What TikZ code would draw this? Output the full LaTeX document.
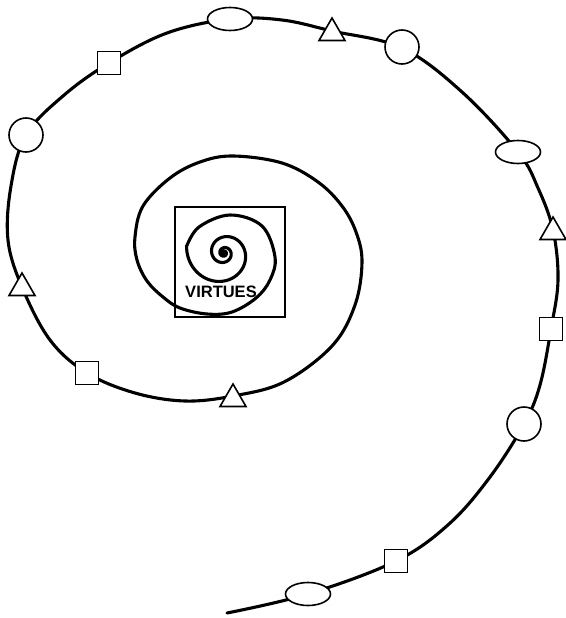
\documentclass[tikz,border=0pt]{standalone}
\usepackage{fontspec}
\usepackage{tikz}
\usetikzlibrary{shapes.geometric}
\newfontfamily\virtuefont{Liberation Sans}

\begin{document}
\begin{tikzpicture}[x=1pt, y=-1pt,
        spiralline/.style={line width=3.1pt, line cap=round},
        markbase/.style={draw, fill=white, line width=1.6pt, inner sep=0pt},
        ovalmark/.style={markbase, ellipse, minimum width=45pt, minimum height=23pt},
        roundmark/.style={markbase, circle, minimum size=34pt},
        squaremark/.style={markbase, rectangle, minimum size=23pt},
        trimark/.style={markbase, regular polygon, regular polygon sides=3, minimum size=30pt}]
        \useasboundingbox (0,0) rectangle (565,618);

        % Spiral
        \draw[spiralline]
            plot[domain=-1000:190, samples=260, smooth, variable=\t]
                ({224+38*exp(1.0986*(\t-190)/360)*cos(\t)}, {253+38*exp(1.0986*(\t-190)/360)*sin(\t)})
            -- plot[smooth, tension=0.6] coordinates {(186.6,246.4) (199,227) (230,215) (262,226)
                (275,257) (270,280) (256,298) (232,312) (207,314) (180,308) (163,297)
                (147,281) (137,260) (135,237) (143,206) (170,178) (200,162) (233,156)
                (282,163) (318,182) (342,206) (356,232) (362,262) (355,305) (332,346)
                (284,382) (233,396) (185,401) (135,393) (87,373) (50,340) (22,287)
                (8,240) (11,186) (26,135) (63,96) (109,63) (167,33) (230,19) (282,20)
                (332,31) (402,48) (462,92) (518,152) (538,188) (553,230)
                (558,280) (551,329) (540,385) (524,424) (490,477) (449,524) (396,561)
                (308,594) (227,613)};

        % Centre
        \node[draw, line width=1.6pt, minimum size=110pt, inner sep=0pt] (virtueBox) at (230,262) {};
        \node[font=\virtuefont\bfseries\fontsize{16.5}{18}\selectfont, inner sep=0pt] (virtueLabel) at (221,292) {VIRTUES};

        % Markers
        \foreach \name/\pos in {ovalTop/{(230,19)}, ovalRight/{(518,152)}, ovalBottom/{(308,594)}}
            \node[ovalmark] (\name) at \pos {};
        \foreach \name/\pos in {roundLeft/{(26,135)}, roundTop/{(402,47)}, roundRight/{(524,424)}}
            \node[roundmark] (\name) at \pos {};
        \foreach \name/\pos in {squareTop/{(109,63)}, squareLeft/{(87,373)}, squareRight/{(551,329)}, squareBottom/{(396,561)}}
            \node[squaremark] (\name) at \pos {};
        \foreach \name/\pos in {triTop/{(332,33)}, triRight/{(553,232)}, triLeft/{(22,288)}, triInner/{(233,399)}}
            \node[trimark] (\name) at \pos {};
    \end{tikzpicture}
\end{document}
